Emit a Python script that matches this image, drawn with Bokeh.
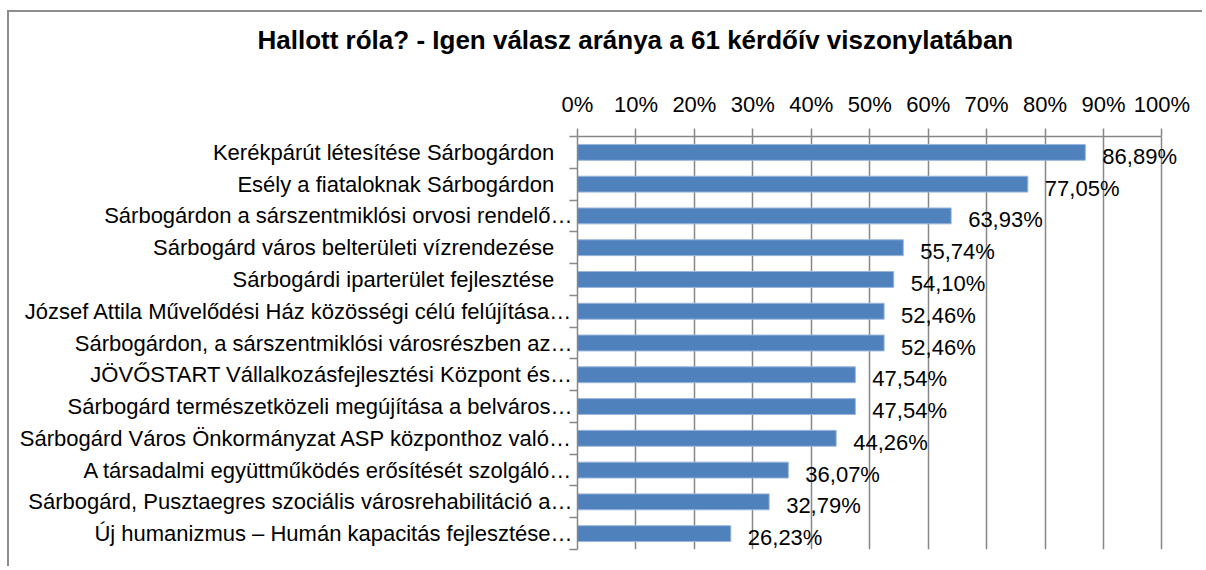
from bokeh.plotting import figure
from bokeh.models import ColumnDataSource, FixedTicker, LabelSet
from bokeh.core.properties import value
from bokeh.embed import file_html
from bokeh.resources import INLINE

title_text = "Hallott róla? - Igen válasz aránya a 61 kérdőív viszonylatában"

categories = [
    "Kerékpárút létesítése Sárbogárdon\u00a0\u00a0\u00a0",
    "Esély a fiataloknak Sárbogárdon\u00a0\u00a0\u00a0",
    "Sárbogárdon a sárszentmiklósi orvosi rendelő…",
    "Sárbogárd város belterületi vízrendezése\u00a0\u00a0\u00a0",
    "Sárbogárdi iparterület fejlesztése\u00a0\u00a0\u00a0",
    "József Attila Művelődési Ház közösségi célú felújítása…",
    "Sárbogárdon, a sárszentmiklósi városrészben az…",
    "JÖVŐSTART Vállalkozásfejlesztési Központ és…",
    "Sárbogárd természetközeli megújítása a belváros…",
    "Sárbogárd Város Önkormányzat ASP központhoz való…",
    "A társadalmi együttműködés erősítését szolgáló…",
    "Sárbogárd, Pusztaegres szociális városrehabilitáció a…",
    "Új humanizmus – Humán kapacitás fejlesztése…",
]
values = [86.89, 77.05, 63.93, 55.74, 54.10, 52.46, 52.46, 47.54, 47.54, 44.26, 36.07, 32.79, 26.23]
x_ticks = [0, 10, 20, 30, 40, 50, 60, 70, 80, 90, 100]

FONT = "Liberation Sans"
FS = "22px"
GRID = "#878787"
n = len(categories)
ys = [n - i - 0.5 for i in range(n)]
labels = [f"{v:.2f}%".replace(".", ",") for v in values]

src = ColumnDataSource(dict(y=ys, v=values, lbl=labels))

p = figure(width=1195, height=556, x_range=(0, 103), y_range=(0, n),
           x_axis_location="above", output_backend="svg", toolbar_location=None,
           min_border_left=568, min_border_right=25, min_border_top=124, min_border_bottom=19)
p.styles = {"margin-left": "7px", "margin-top": "10px",
            "border-top": "2px solid #8d8d8d", "border-left": "2px solid #8d8d8d"}
p.outline_line_color = None
p.background_fill_color = "white"
p.border_fill_color = "white"

p.title.text = title_text
p.title.align = "left"
p.title.offset = -320
p.title.text_font = FONT
p.title.text_font_style = "bold"
p.title.text_font_size = "26px"
p.title.text_color = "black"
try:
    p.title.padding = dict(left=0, right=0, top=0, bottom=29)
    p.title.standoff = 10
except Exception:
    p.title.standoff = 40

p.hbar(y="y", left=0, right="v", height=0.5, source=src,
       fill_color="#4F81BD", line_color="#9AB6DD", line_width=1)

# x axis (top)
xa = p.xaxis[0]
xa.bounds = (0, 100)
xa.ticker = FixedTicker(ticks=x_ticks, minor_ticks=[])
xa.major_label_overrides = {t: f"{t}%" for t in x_ticks}
xa.major_tick_out = 8
xa.major_tick_in = 0
xa.major_label_standoff = 12
xa.axis_line_color = GRID
xa.axis_line_width = 1.5
xa.major_tick_line_color = GRID
xa.major_tick_line_width = 1.5
xa.major_label_text_font = FONT
xa.major_label_text_font_size = FS
xa.major_label_text_color = "black"

# y axis (left)
ya = p.yaxis[0]
ya.ticker = FixedTicker(ticks=ys, minor_ticks=list(range(n + 1)))
ya.major_label_overrides = {y: c for y, c in zip(ys, categories)}
ya.major_tick_out = 0
ya.major_tick_in = 0
ya.minor_tick_out = 8
ya.minor_tick_in = 0
ya.minor_tick_line_color = GRID
ya.minor_tick_line_width = 1.5
ya.axis_line_color = GRID
ya.axis_line_width = 1.5
ya.major_label_standoff = -3
ya.major_label_text_font = FONT
ya.major_label_text_font_size = FS
ya.major_label_text_color = "black"

p.xgrid.grid_line_color = GRID
p.xgrid.grid_line_width = 1.5
p.ygrid.grid_line_color = None

p.add_layout(LabelSet(x="v", y="y", text="lbl", source=src, x_offset=17, y_offset=-4,
                      text_baseline="middle", text_font=value(FONT), text_font_size=value(FS),
                      text_color="black"))

open("out.html", "w").write(file_html(p, INLINE))
